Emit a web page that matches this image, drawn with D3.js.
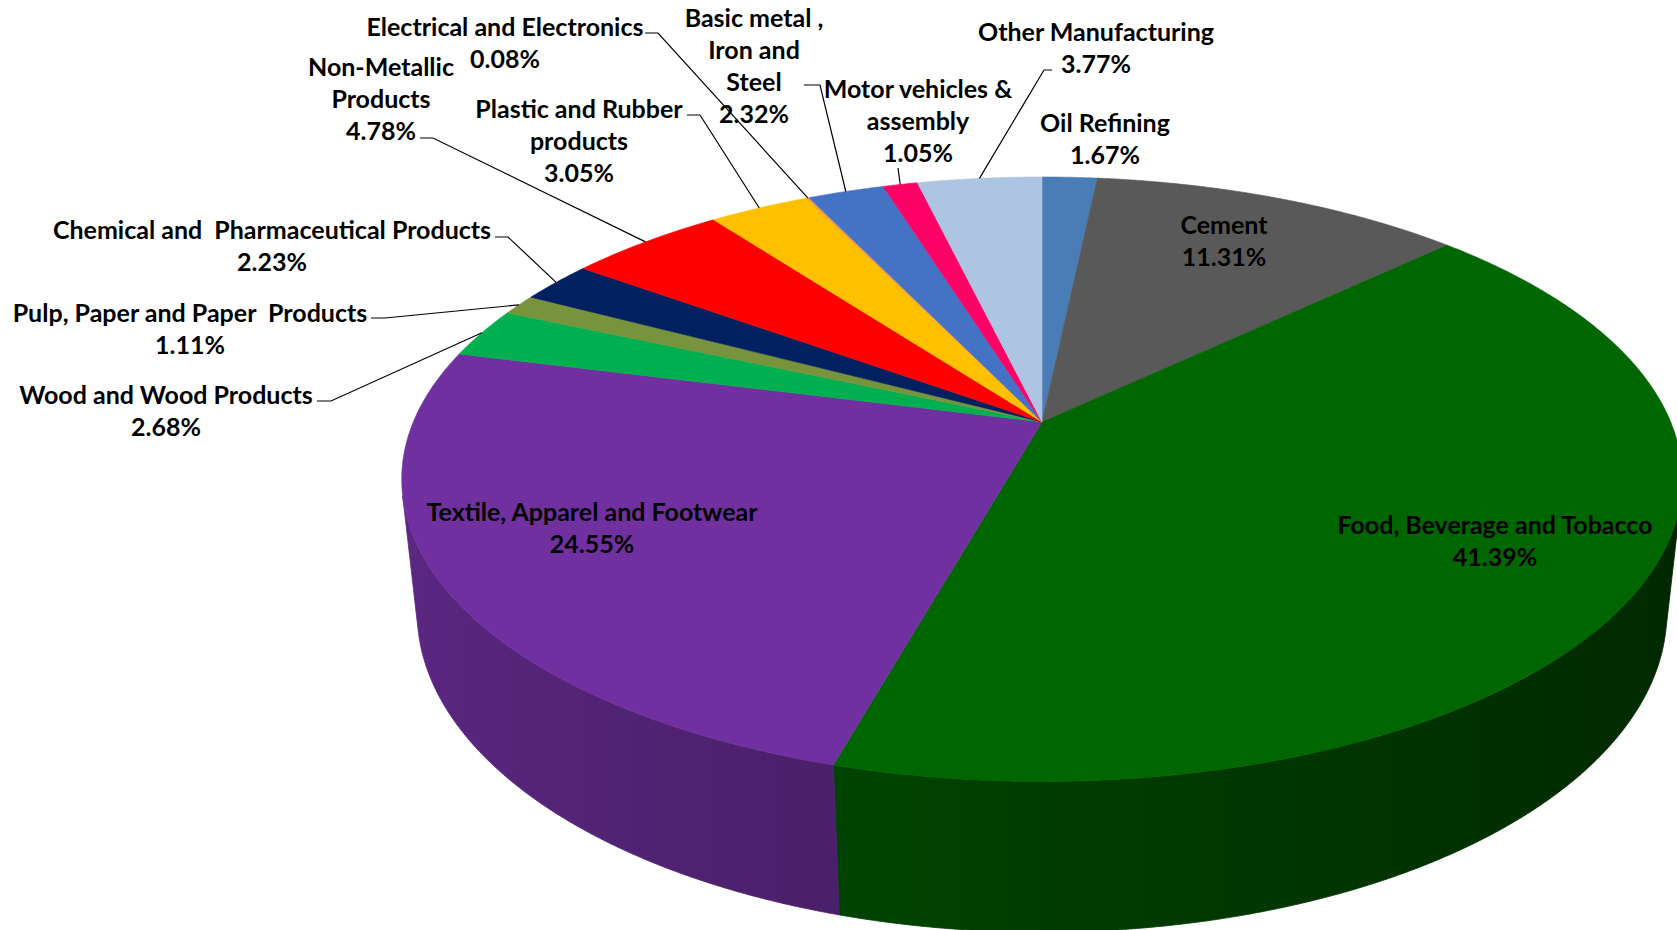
<!DOCTYPE html>
<html>
<head>
<meta charset="utf-8">
<script src="https://cdn.jsdelivr.net/npm/d3@7"></script>
<style>
  html, body { margin: 0; padding: 0; background: #ffffff; }
  svg { display: block; }
  text { font-family: Lato, "Open Sans", sans-serif; font-weight: 700; fill: #000; white-space: pre; }
</style>
</head>
<body>
<svg id="chart" width="1677" height="930"></svg>
<script>
// ---- data -------------------------------------------------------------
const categories = [
  "Oil Refining",
  "Cement",
  "Food, Beverage and Tobacco",
  "Textile, Apparel and Footwear",
  "Wood and Wood Products",
  "Pulp, Paper and Paper  Products",
  "Chemical and  Pharmaceutical Products",
  "Non-Metallic Products",
  "Plastic and Rubber products",
  "Electrical and Electronics",
  "Basic metal , Iron and Steel",
  "Motor vehicles & assembly",
  "Other Manufacturing"
];
const shares = [1.67, 11.31, 41.39, 24.55, 2.68, 1.11, 2.23, 4.78, 3.05, 0.08, 2.32, 1.05, 3.77];

// label text split into the lines that are drawn (value line appended)
const labelLines = [
  ["Oil Refining"],
  ["Cement"],
  ["Food, Beverage and Tobacco"],
  ["Textile, Apparel and Footwear"],
  ["Wood and Wood Products"],
  ["Pulp, Paper and Paper  Products"],
  ["Chemical and  Pharmaceutical Products"],
  ["Non-Metallic", "Products"],
  ["Plastic and Rubber", "products"],
  ["Electrical and Electronics"],
  ["Basic metal ,", "Iron and", "Steel"],
  ["Motor vehicles &", "assembly"],
  ["Other Manufacturing"]
];

// ---- styling / layout -------------------------------------------------
const sliceColors = [
  "#4a7db6", "#595959", "#006600", "#7030a0", "#00b050", "#77933c", "#002060",
  "#ff0000", "#ffc000", "#f79646", "#4472c4", "#ff0066", "#adc4e3"
];

// label block: centre x, centre y of first line, optional leader (stub points)
const labelLayout = [
  { x: 1105, y: 123, leader: null },
  { x: 1224, y: 225, leader: null },
  { x: 1495, y: 525, leader: null },
  { x: 592,  y: 512, leader: null },
  { x: 166,  y: 395, leader: [[317, 401], [331, 401]] },
  { x: 190,  y: 313, leader: [[371, 318], [385, 318]] },
  { x: 272,  y: 230, leader: [[495, 237], [508, 237]] },
  { x: 381,  y: 67,  leader: [[420, 138], [433, 138]] },
  { x: 579,  y: 109, leader: [[687, 115], [700, 115]] },
  { x: 505,  y: 27,  leader: [[645, 33], [658, 33]] },
  { x: 754,  y: 18,  leader: [[804, 85], [820, 85]] },
  { x: 918,  y: 89,  leader: [[898, 168]] },
  { x: 1096, y: 32,  leader: [[1052, 70], [1044, 70]] }
];
const LINE_STEP = 32;
const FONT_SIZE = 25;

// ---- perspective projection of the pie disc ---------------------------
const CX = 1042, CY = 422;       // screen position of the pie centre
const F = 2943;                  // focal length (px)
const DIST = 4.681;              // camera distance (in pie radii)
const TILT_SIN = 0.4635, TILT_COS = 0.886;
const THICK = 0.2413;            // disc thickness (in pie radii)

function project(theta, r, depth) {
  const u = r * Math.sin(theta);
  const v = r * Math.cos(theta);
  const yc = -depth * TILT_COS + v * TILT_SIN;
  const zc = DIST + depth * TILT_SIN + v * TILT_COS;
  return [CX + F * u / zc, CY - F * yc / zc];
}

const svg = d3.select("#chart");
const defs = svg.append("defs");
const arcs = d3.pie().sort(null).value(d => d)(shares);

// side-wall lighting: brighter on the left, darker toward the right
const wallShade = d3.scaleLinear().domain([-1, 1]).range([0.82, 0.38]);
function shadeColor(base, k) {
  const c = d3.rgb(base);
  return d3.rgb(c.r * k, c.g * k, c.b * k).formatHex();
}

// a wall strip is visible when its projected quad winds clockwise on screen
function facesViewer(t0, t1) {
  const q = [project(t0, 1, 0), project(t1, 1, 0), project(t1, 1, THICK), project(t0, 1, THICK)];
  let area = 0;
  for (let j = 0; j < 4; j++) {
    const p = q[j], r = q[(j + 1) % 4];
    area += p[0] * r[1] - r[0] * p[1];
  }
  return area < 0;
}

// ---- side walls (one path per slice, shaded with a horizontal gradient) ----
const wallLayer = svg.append("g");
const STEP = Math.PI / 720;
arcs.forEach((a, i) => {
  const n = Math.max(1, Math.ceil((a.endAngle - a.startAngle) / STEP));
  const ts = d3.range(n + 1).map(k => a.startAngle + (a.endAngle - a.startAngle) * k / n);
  let first = -1, last = -1;
  for (let k = 0; k < n; k++) {
    if (facesViewer(ts[k], ts[k + 1])) { if (first < 0) first = k; last = k + 1; }
  }
  if (first < 0) return;
  const vis = ts.slice(first, last + 1);
  const topPts = vis.map(t => project(t, 1, 0));
  const botPts = vis.map(t => project(t, 1, THICK)).reverse();
  const xs = topPts.map(p => p[0]);
  const x0 = d3.min(xs), x1 = d3.max(xs);
  const gid = "wall-grad-" + i;
  const grad = defs.append("linearGradient")
    .attr("id", gid)
    .attr("gradientUnits", "userSpaceOnUse")
    .attr("x1", x0).attr("x2", x1 > x0 ? x1 : x0 + 1)
    .attr("y1", 0).attr("y2", 0);
  const stops = vis.map((t, k) => ({
    off: x1 > x0 ? (topPts[k][0] - x0) / (x1 - x0) : 0,
    col: shadeColor(sliceColors[i], wallShade(Math.sin(t)))
  })).sort((p, q) => p.off - q.off);
  const every = Math.max(1, Math.floor(stops.length / 40));
  stops.filter((s, k) => k % every === 0 || k === stops.length - 1).forEach(s => {
    grad.append("stop").attr("offset", s.off).attr("stop-color", s.col);
  });
  wallLayer.append("path")
    .attr("d", "M" + topPts.concat(botPts).map(p => p.join(",")).join("L") + "Z")
    .attr("fill", "url(#" + gid + ")")
    .attr("stroke", "url(#" + gid + ")")
    .attr("stroke-width", 0.8)
    .attr("stroke-linejoin", "round");
});

// ---- top faces ----------------------------------------------------------
const topLayer = svg.append("g");
arcs.forEach((a, i) => {
  const n = Math.max(2, Math.ceil((a.endAngle - a.startAngle) / STEP));
  const pts = [project(0, 0, 0)];
  for (let k = 0; k <= n; k++) {
    pts.push(project(a.startAngle + (a.endAngle - a.startAngle) * k / n, 1, 0));
  }
  topLayer.append("path")
    .attr("d", "M" + pts.map(p => p.join(",")).join("L") + "Z")
    .attr("fill", sliceColors[i])
    .attr("stroke", sliceColors[i])
    .attr("stroke-width", 0.6)
    .attr("stroke-linejoin", "round");
});

// ---- leader lines -----------------------------------------------------------
const leaderLayer = svg.append("g");
arcs.forEach((a, i) => {
  const lay = labelLayout[i];
  if (!lay.leader) return;
  const mid = (a.startAngle + a.endAngle) / 2;
  const pts = lay.leader.concat([project(mid, 1, 0)]);
  leaderLayer.append("path")
    .attr("d", d3.line()(pts))
    .attr("fill", "none")
    .attr("stroke", "#000")
    .attr("stroke-width", 1.2);
});

// ---- labels -------------------------------------------------------------------
const labelLayer = svg.append("g");
arcs.forEach((a, i) => {
  const lay = labelLayout[i];
  const lines = labelLines[i].concat([shares[i].toFixed(2) + "%"]);
  const t = labelLayer.append("text")
    .attr("text-anchor", "middle")
    .attr("font-size", FONT_SIZE);
  lines.forEach((ln, j) => {
    t.append("tspan")
      .attr("x", lay.x)
      .attr("y", lay.y + j * LINE_STEP + 9)
      .text(ln);
  });
});
</script>
</body>
</html>
